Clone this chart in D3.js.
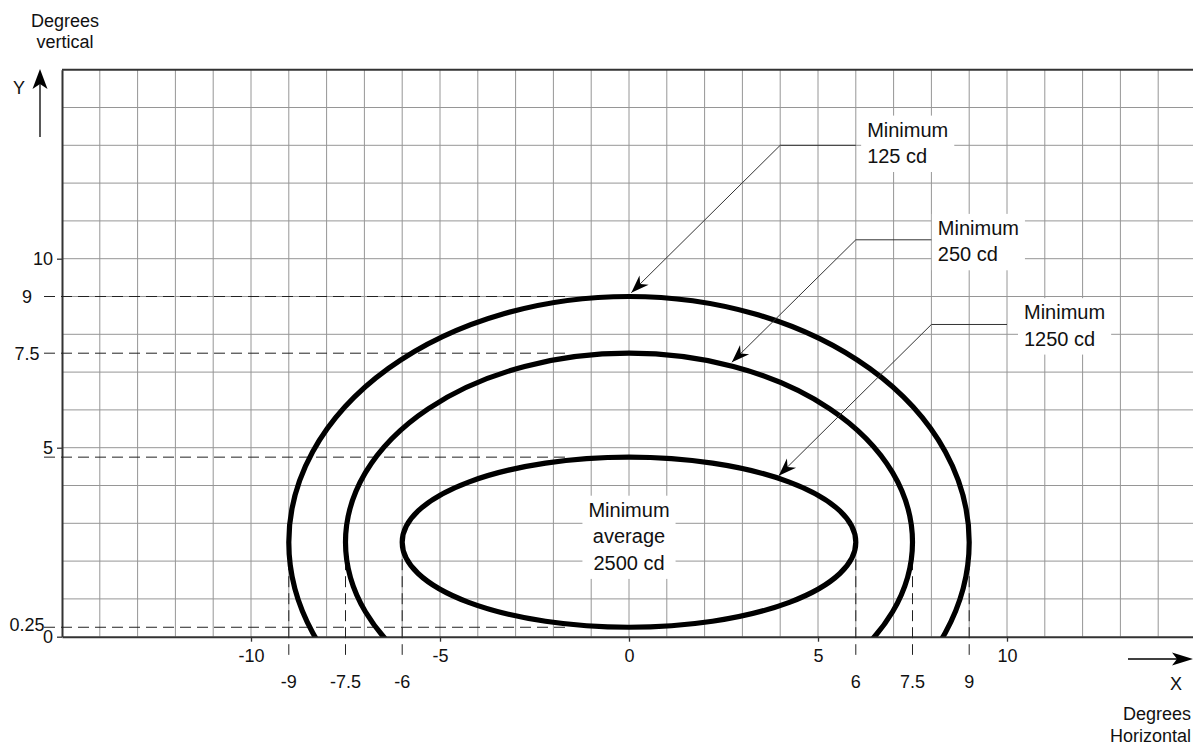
<!DOCTYPE html>
<html>
<head>
<meta charset="utf-8">
<script src="https://cdnjs.cloudflare.com/ajax/libs/d3/7.8.5/d3.min.js"></script>
<style>
    body { margin: 0; background: #fff; }
    svg text { font-family: "Liberation Sans", Arial, Helvetica, sans-serif; fill: #111; }
</style>
</head>
<body>
<div id="chart"></div>
<script>
// isocandela contours: half width (deg) at the centre height, top (deg), centre height (deg)
var contourNames = ["125 cd", "250 cd", "1250 cd"];
var contourHalfWidth = [9, 7.5, 6];
var contourTop = [9, 7.5, 4.75];
var contourCentreY = [2.5, 2.5, 2.5];

// axis ticks and the dashed guide values
var xTicks = [-10, -5, 0, 5, 10];
var yTicks = [0, 5, 10];
var xGuides = [-9, -7.5, -6, 6, 7.5, 9];
var xGuideLabels = ["-9", "-7.5", "-6", "6", "7.5", "9"];
var yGuides = [9, 7.5, 4.75, 0.25];
var yGuideLabels = ["9", "7.5", null, "0.25"];

// callouts (degrees): arrow tip, elbow, end of the horizontal leader, first text line
var calloutText = [["Minimum", "125 cd"], ["Minimum", "250 cd"], ["Minimum", "1250 cd"]];
var calloutTipX = [0.06, 2.72, 3.96];
var calloutTipY = [9.1, 7.26, 4.26];
var calloutElbowX = [4, 6, 8];
var calloutElbowY = [13, 10.5, 8.26];
var calloutEndX = [6, 8, 10];
var calloutTextX = [6.3, 8.17, 10.45];
var calloutTextY = [13.23, 10.63, 8.4];

var centreText = ["Minimum", "average", "2500 cd"];

var drawChart = (function () {

    function go() {
        var W = 1193, H = 746;
        var svg = d3.select("#chart").append("svg")
            .attr("width", W)
            .attr("height", H);

        var unit = 37.8;
        var left = 62, bottom = 636.7;
        var x = d3.scaleLinear().domain([-15, 15]).range([left, left + 30 * unit]);
        var y = d3.scaleLinear().domain([0, 15]).range([bottom, bottom - 15 * unit]);

        var defs = svg.append("defs");
        defs.append("clipPath").attr("id", "plotClip")
            .append("rect")
            .attr("x", x(-15)).attr("y", y(15))
            .attr("width", W - x(-15)).attr("height", y(0) - y(15));
        defs.append("marker")
            .attr("id", "head")
            .attr("markerUnits", "userSpaceOnUse")
            .attr("viewBox", "-19 -8 20 16")
            .attr("refX", 0).attr("refY", 0)
            .attr("markerWidth", 20).attr("markerHeight", 16)
            .attr("orient", "auto")
            .append("path")
            .attr("d", "M0,0 L-18,-6.5 L-12.5,0 L-18,6.5 Z")
            .attr("fill", "#000");

        // grid
        var grid = svg.append("g").attr("clip-path", "url(#plotClip)");
        grid.selectAll(".vgrid")
            .data(d3.range(-14, 15))
            .enter().append("line")
            .attr("x1", function (d) { return x(d); })
            .attr("x2", function (d) { return x(d); })
            .attr("y1", y(0)).attr("y2", y(15))
            .attr("stroke", "#969696").attr("stroke-width", 1);
        grid.selectAll(".hgrid")
            .data(d3.range(1, 15))
            .enter().append("line")
            .attr("x1", x(-15)).attr("x2", W)
            .attr("y1", function (d) { return y(d); })
            .attr("y2", function (d) { return y(d); })
            .attr("stroke", "#969696").attr("stroke-width", 1);

        // frame: top
        svg.append("line")
            .attr("x1", x(-15)).attr("x2", W)
            .attr("y1", y(15)).attr("y2", y(15))
            .attr("stroke", "#333").attr("stroke-width", 2);

        // axes
        var fmt = function (d) { return String(d); };
        var xAxis = svg.append("g")
            .attr("transform", "translate(0," + y(0) + ")")
            .call(d3.axisBottom(x).tickValues(xTicks).tickFormat(fmt)
                .tickSize(5).tickSizeOuter(0).tickPadding(8));
        var yAxis = svg.append("g")
            .attr("transform", "translate(" + x(-15) + ",0)")
            .call(d3.axisLeft(y).tickValues(yTicks).tickFormat(fmt)
                .tickSize(5).tickSizeOuter(0).tickPadding(4));
        [xAxis, yAxis].forEach(function (a) {
            a.select(".domain").attr("stroke", "#333").attr("stroke-width", 2);
            a.selectAll(".tick line").attr("stroke", "#333").attr("stroke-width", 1.3);
            a.selectAll(".tick text")
                .attr("font-size", 18)
                .attr("font-family", "Liberation Sans, Arial, sans-serif")
                .attr("fill", "#111");
        });

        // white boxes behind the texts (filled after the texts are measured)
        var boxes = svg.append("g");

        // dashed guides
        var guides = svg.append("g")
            .attr("stroke", "#222").attr("stroke-width", 1)
            .attr("stroke-dasharray", "11,6");
        guides.selectAll(".hg")
            .data(yGuides)
            .enter().append("line")
            .attr("x1", 44).attr("x2", x(-1.65))
            .attr("y1", function (d) { return y(d); })
            .attr("y2", function (d) { return y(d); });
        guides.selectAll(".vg")
            .data(xGuides)
            .enter().append("line")
            .attr("x1", function (d) { return x(d); })
            .attr("x2", function (d) { return x(d); })
            .attr("y1", y(2.5)).attr("y2", y(-0.48));

        svg.selectAll(".ygl")
            .data(yGuides)
            .enter().filter(function (d, i) { return yGuideLabels[i] !== null; })
            .append("text")
            .attr("x", 27)
            .attr("y", function (d) { return Math.min(y(d), y(0) - 12); })
            .attr("dy", "0.35em")
            .attr("text-anchor", "middle")
            .attr("font-size", 18)
            .text(function (d) { return yGuideLabels[yGuides.indexOf(d)]; });

        svg.selectAll(".xgl")
            .data(xGuides)
            .enter().append("text")
            .attr("x", function (d) { return x(d); })
            .attr("y", 688)
            .attr("text-anchor", "middle")
            .attr("font-size", 18)
            .text(function (d, i) { return xGuideLabels[i]; });

        // contours
        svg.append("g")
            .attr("clip-path", "url(#plotClip)")
            .selectAll("ellipse")
            .data(contourNames)
            .enter().append("ellipse")
            .attr("cx", x(0))
            .attr("cy", function (d, i) { return y(contourCentreY[i]); })
            .attr("rx", function (d, i) { return x(contourHalfWidth[i]) - x(0); })
            .attr("ry", function (d, i) { return y(contourCentreY[i]) - y(contourTop[i]); })
            .attr("fill", "none")
            .attr("stroke", "#000")
            .attr("stroke-width", 5.2);

        // callout leaders
        svg.append("g").selectAll("path")
            .data(contourNames)
            .enter().append("path")
            .attr("d", function (d, i) {
                return "M" + x(calloutEndX[i]) + "," + y(calloutElbowY[i]) +
                    "L" + x(calloutElbowX[i]) + "," + y(calloutElbowY[i]) +
                    "L" + x(calloutTipX[i]) + "," + y(calloutTipY[i]);
            })
            .attr("fill", "none")
            .attr("stroke", "#333")
            .attr("stroke-width", 1)
            .attr("marker-end", "url(#head)");

        // callout texts
        var labels = svg.append("g");
        calloutText.forEach(function (lines, i) {
            var t = labels.append("text")
                .attr("x", x(calloutTextX[i]))
                .attr("y", y(calloutTextY[i]))
                .attr("font-size", 20);
            lines.forEach(function (s, k) {
                t.append("tspan")
                    .attr("x", x(calloutTextX[i]))
                    .attr("dy", k === 0 ? 0 : 26.4)
                    .text(s);
            });
        });
        var ct = labels.append("text")
            .attr("x", x(0))
            .attr("y", y(2.5) - 25.5)
            .attr("text-anchor", "middle")
            .attr("font-size", 20);
        centreText.forEach(function (s, k) {
            ct.append("tspan")
                .attr("x", x(0))
                .attr("dy", k === 0 ? 0 : 26.6)
                .text(s);
        });

        labels.selectAll("text").each(function () {
            var b = this.getBBox();
            boxes.append("rect")
                .attr("x", b.x - 6).attr("y", b.y - 3)
                .attr("width", b.width + 12).attr("height", b.height + 8)
                .attr("fill", "#fff");
        });

        // axis titles and arrows
        var t1 = svg.append("text").attr("x", 65).attr("y", 26.5)
            .attr("text-anchor", "middle").attr("font-size", 18);
        t1.append("tspan").attr("x", 65).text("Degrees");
        t1.append("tspan").attr("x", 65).attr("dy", 21.8).text("vertical");
        svg.append("text").attr("x", 19).attr("y", 94)
            .attr("text-anchor", "middle").attr("font-size", 18).text("Y");
        svg.append("line")
            .attr("x1", 40).attr("x2", 40).attr("y1", 137).attr("y2", 84)
            .attr("stroke", "#000").attr("stroke-width", 1.3);
        svg.append("path")
            .attr("d", "M40,69 L47.5,89 L40,84 L32.5,89 Z")
            .attr("fill", "#000");

        svg.append("line")
            .attr("x1", 1128).attr("x2", 1178).attr("y1", 659).attr("y2", 659)
            .attr("stroke", "#000").attr("stroke-width", 1.3);
        svg.append("path")
            .attr("d", "M1193,659 L1172,652.5 L1177,659 L1172,665.5 Z")
            .attr("fill", "#000");
        svg.append("text").attr("x", 1176).attr("y", 690)
            .attr("text-anchor", "middle").attr("font-size", 18).text("X");
        var t2 = svg.append("text").attr("x", 1191).attr("y", 720)
            .attr("text-anchor", "end").attr("font-size", 18);
        t2.append("tspan").attr("x", 1191).text("Degrees");
        t2.append("tspan").attr("x", 1191).attr("dy", 21.8).text("Horizontal");
    }

    document.addEventListener("DOMContentLoaded", function (event) {
        go();
    });
}());
</script>
</body>
</html>
